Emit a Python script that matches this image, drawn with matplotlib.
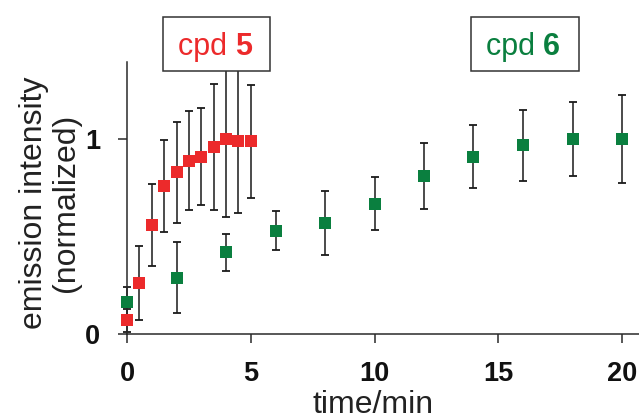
import matplotlib
matplotlib.use("Agg")
import matplotlib.pyplot as plt
from matplotlib.patches import Rectangle

plt.rcParams['font.family'] = ['Liberation Sans', 'DejaVu Sans']

# cpd 5 kinetics
t5 = [0, 0.5, 1, 1.5, 2, 2.5, 3, 3.5, 4, 4.5, 5]
y5 = [0.07, 0.26, 0.56, 0.76, 0.83, 0.89, 0.91, 0.96, 1.00, 0.99, 0.99]
e5 = [0.058, 0.19, 0.21, 0.235, 0.26, 0.255, 0.25, 0.325, 0.40, 0.37, 0.29]

# cpd 6 kinetics
t6 = [0, 2, 4, 6, 8, 10, 12, 14, 16, 18, 20]
y6 = [0.165, 0.29, 0.42, 0.53, 0.57, 0.67, 0.81, 0.91, 0.97, 1.00, 1.00]
e6 = [0.074, 0.18, 0.096, 0.10, 0.165, 0.137, 0.17, 0.162, 0.183, 0.19, 0.227]

xticks = [0, 5, 10, 15, 20]
yticks = [0, 1]

RED = '#EC2A2B'
GREEN = '#0A7F3F'
INK = '#2a2a2a'

W, H = 639, 420
fig = plt.figure(figsize=(W / 100, H / 100), dpi=100)
ax = fig.add_axes([127 / W, (H - 334) / H, (W - 127) / W, (334 - 62) / H])

ax.set_xlim(0, (W - 127) / 24.75)
ax.set_ylim(0, (334 - 62) / 194.7)

err_kw = dict(fmt='none', ecolor='#1a1a1a', elinewidth=1.1, capsize=2.6,
              capthick=1.3, clip_on=False, zorder=2)
for t, y, e in ((t5, y5, e5), (t6, y6, e6)):
    _, caps, bars = ax.errorbar(t, y, yerr=e, **err_kw)
    for c in caps:
        c.set_clip_on(False)
    for b in bars:
        b.set_clip_on(False)

ax.plot(t6, y6, ls='none', marker='s', ms=8.0, mew=0, color=GREEN,
        clip_on=False, zorder=3)
ax.plot(t5, y5, ls='none', marker='s', ms=8.0, mew=0, color=RED,
        clip_on=False, zorder=4)

for side in ('top', 'right'):
    ax.spines[side].set_visible(False)
for side in ('left', 'bottom'):
    ax.spines[side].set_linewidth(1.1)
    ax.spines[side].set_color(INK)

ax.set_xticks(xticks)
ax.set_yticks(yticks)
ax.tick_params(direction='out', length=6.5, width=1.1, color=INK,
               labelsize=19.5, pad=13, labelcolor='#111111')
for lab in ax.get_xticklabels() + ax.get_yticklabels():
    lab.set_fontweight('bold')

fig.text(373 / W, (H - 413) / H, 'time/min', fontsize=23, ha='center',
         va='baseline', color='#222222')
fig.text(50 / W, (H - 203) / H, 'emission intensity\n(normalized)',
         fontsize=23, rotation=90, ha='center', va='center',
         multialignment='center', linespacing=1.05, color='#222222')

# labelled boxes for the two compounds
boxes = [((162.7, 16.7, 107.3, 54.0), 'cpd ', '5', RED, 215),
         ((471.0, 16.7, 108.3, 54.0), 'cpd ', '6', GREEN, 523)]
fig.canvas.draw()
renderer = fig.canvas.get_renderer()
for (bx, by, bw, bh), word, num, col, cx in boxes:
    rect = Rectangle((bx / W, 1 - (by + bh) / H), bw / W, bh / H,
                     transform=fig.transFigure, facecolor='white',
                     edgecolor='#333333', linewidth=1.1, zorder=10)
    fig.add_artist(rect)
    t1 = fig.text(0, 0, word, fontsize=22, color=col, va='baseline',
                  ha='left', zorder=11)
    t2 = fig.text(0, 0, num, fontsize=22, color=col, va='baseline',
                  ha='left', fontweight='bold', zorder=11)
    w1 = t1.get_window_extent(renderer).width
    w2 = t2.get_window_extent(renderer).width
    x0 = cx - (w1 + w2) / 2
    yb = (H - 55) / H
    t1.set_position((x0 / W, yb))
    t2.set_position(((x0 + w1) / W, yb))

fig.savefig('out.png', dpi=100)
